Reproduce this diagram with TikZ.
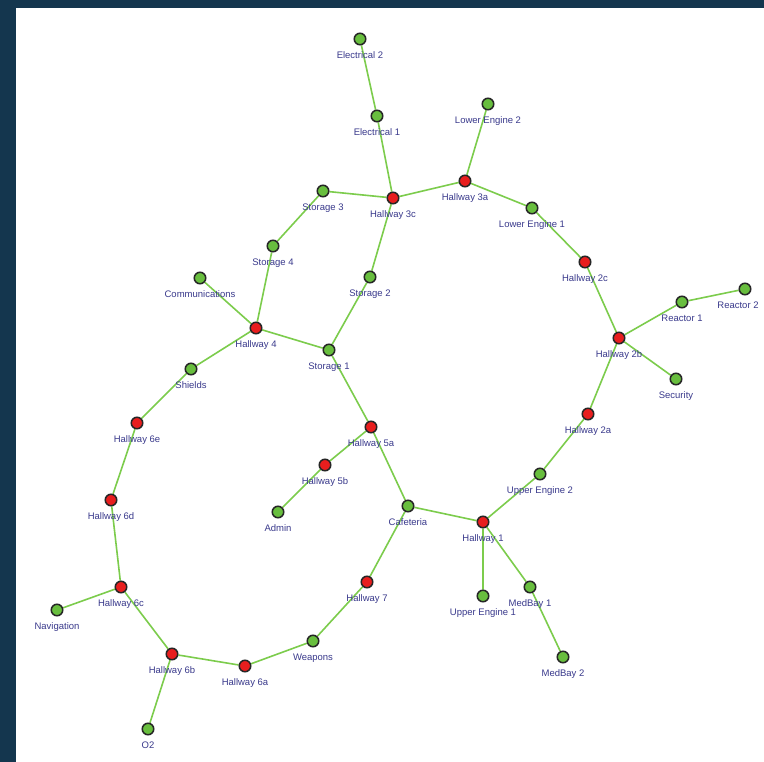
\documentclass[tikz,border=0pt]{standalone}
\usepackage{fontspec}
\setmainfont{Liberation Sans}
\usepackage{xcolor}
\usetikzlibrary{backgrounds}

\definecolor{frameblue}{RGB}{20,54,78}
\definecolor{roomgreen}{RGB}{104,190,62}
\definecolor{hallred}{RGB}{232,30,30}
\definecolor{linkgreen}{RGB}{124,204,76}
\definecolor{labelblue}{RGB}{58,58,140}

\begin{document}
\begin{tikzpicture}[
  x=1pt, y=-1pt,
  every node/.style={font=\fontsize{9.5}{11}\selectfont},
  room/.style={
    circle,
    draw=black!85,
    line width=1.5pt,
    fill=roomgreen,
    minimum size=11.5pt,
    inner sep=0pt
  },
  hall/.style={room, fill=hallred},
  lbl/.style={text=labelblue, inner sep=1pt, label distance=5pt},
  link/.style={draw=linkgreen, line width=1.6pt}
]
\useasboundingbox (0,0) rectangle (764,762);

% Upper part
\node[room, label={[lbl]below:Electrical 2}] (elec2) at (360,39) {};
\node[room, label={[lbl]below:Electrical 1}] (elec1) at (377,116) {};
\node[room, label={[lbl]below:Lower Engine 2}] (lower2) at (488,104) {};
\node[hall, label={[lbl]below:Hallway 3a}] (hall3a) at (465,181) {};
\node[hall, label={[lbl]below:Hallway 3c}] (hall3c) at (393,198) {};
\node[room, label={[lbl]below:Storage 3}] (stor3) at (323,191) {};
\node[room, label={[lbl]below:Lower Engine 1}] (lower1) at (532,208) {};
\node[room, label={[lbl]below:Storage 4}] (stor4) at (273,246) {};
\node[hall, label={[lbl]below:Hallway 2c}] (hall2c) at (585,262) {};
\node[room, label={[lbl]below:Communications}] (comms) at (200,278) {};
\node[room, label={[lbl]below:Storage 2}] (stor2) at (370,277) {};

% Right side
\node[room, label={[lbl]below:Reactor 1}] (react1) at (682,302) {};
\node[room, label={[lbl, xshift=-7pt]below:Reactor 2}] (react2) at (745,289) {};
\node[hall, label={[lbl]below:Hallway 2b}] (hall2b) at (619,338) {};
\node[room, label={[lbl]below:Security}] (secur) at (676,379) {};
\node[hall, label={[lbl]below:Hallway 2a}] (hall2a) at (588,414) {};
\node[room, label={[lbl]below:Upper Engine 2}] (upper2) at (540,474) {};

% Middle
\node[hall, label={[lbl]below:Hallway 4}] (hall4) at (256,328) {};
\node[room, label={[lbl]below:Storage 1}] (stor1) at (329,350) {};
\node[hall, label={[lbl]below:Hallway 5a}] (hall5a) at (371,427) {};
\node[hall, label={[lbl]below:Hallway 5b}] (hall5b) at (325,465) {};
\node[room, label={[lbl]below:Admin}] (admin) at (278,512) {};
\node[room, label={[lbl]below:Cafeteria}] (cafe) at (408,506) {};
\node[hall, label={[lbl]below:Hallway 1}] (hall1) at (483,522) {};
\node[room, label={[lbl]below:Upper Engine 1}] (upper1) at (483,596) {};
\node[room, label={[lbl]below:MedBay 1}] (med1) at (530,587) {};
\node[room, label={[lbl]below:MedBay 2}] (med2) at (563,657) {};
\node[hall, label={[lbl]below:Hallway 7}] (hall7) at (367,582) {};
\node[room, label={[lbl]below:Weapons}] (weap) at (313,641) {};

% Left loop
\node[room, label={[lbl]below:Shields}] (shield) at (191,369) {};
\node[hall, label={[lbl]below:Hallway 6e}] (hall6e) at (137,423) {};
\node[hall, label={[lbl]below:Hallway 6d}] (hall6d) at (111,500) {};
\node[hall, label={[lbl]below:Hallway 6c}] (hall6c) at (121,587) {};
\node[room, label={[lbl]below:Navigation}] (navi) at (57,610) {};
\node[hall, label={[lbl]below:Hallway 6b}] (hall6b) at (172,654) {};
\node[hall, label={[lbl]below:Hallway 6a}] (hall6a) at (245,666) {};
\node[room, label={[lbl]below:O2}] (oxy) at (148,729) {};

\begin{scope}[on background layer]
% Frame
\fill[frameblue] (0,0) rectangle (764,762);
\fill[white] (16,8) rectangle (764,762);
% Connections
\draw[link] (elec2) -- (elec1) -- (hall3c) -- (hall3a) -- (lower2);
\draw[link] (hall3a) -- (lower1) -- (hall2c) -- (hall2b) -- (react1) -- (react2);
\draw[link] (hall2b) -- (secur);
\draw[link] (hall2b) -- (hall2a) -- (upper2) -- (hall1) -- (upper1);
\draw[link] (hall1) -- (med1) -- (med2);
\draw[link] (hall1) -- (cafe) -- (hall5a) -- (stor1);
\draw[link] (hall5a) -- (hall5b) -- (admin);
\draw[link] (cafe) -- (hall7) -- (weap) -- (hall6a) -- (hall6b) -- (oxy);
\draw[link] (hall6b) -- (hall6c) -- (navi);
\draw[link] (hall6c) -- (hall6d) -- (hall6e) -- (shield) -- (hall4) -- (comms);
\draw[link] (hall4) -- (stor4) -- (stor3) -- (hall3c) -- (stor2) -- (stor1) -- (hall4);
\end{scope}

\end{tikzpicture}
\end{document}
